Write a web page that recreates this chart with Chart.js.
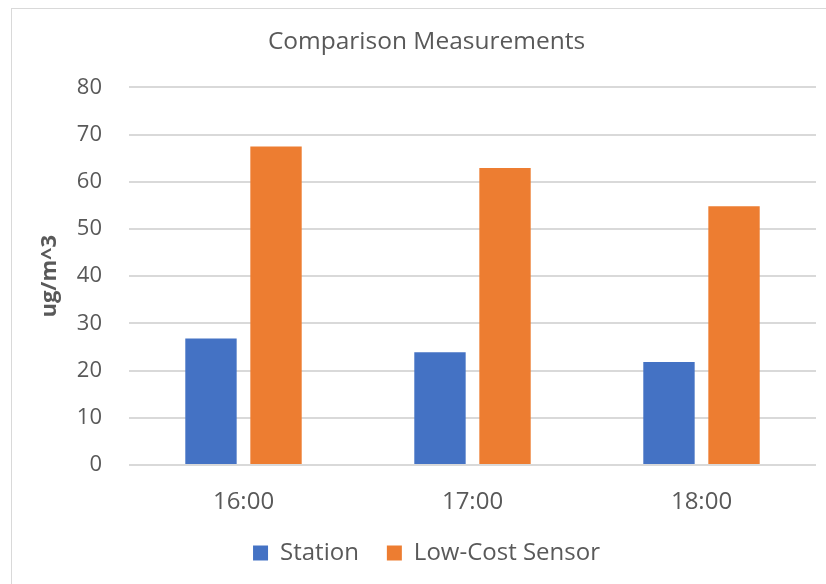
<!DOCTYPE html>
<html>
<head>
<meta charset="utf-8">
<script src="https://cdn.jsdelivr.net/npm/chart.js@4/dist/chart.umd.min.js"></script>
<style>
  html, body { margin: 0; padding: 0; background: #ffffff; }
  #wrap { position: relative; width: 826px; height: 584px; overflow: hidden; }
  #frame { position: absolute; left: 11px; top: 8px; width: 900px; height: 700px; border: 1px solid #d9d9d9; box-sizing: border-box; }
  canvas { position: absolute; left: 0; top: 0; }
</style>
</head>
<body>
<div id="wrap">
  <div id="frame"></div>
  <canvas id="chart" width="826" height="584"></canvas>
</div>
<script>
// Hourly readings, ug/m^3
const hours = ['16:00', '17:00', '18:00'];
const stationValues = [26.8, 23.9, 21.8];
const sensorValues = [67.5, 62.9, 54.8];
const seriesNames = ['Station', 'Low-Cost Sensor'];
const yTicks = [0, 10, 20, 30, 40, 50, 60, 70, 80];

const textColor = '#595959';
const gridColor = '#d9d9d9';
const fontFamily = '"Open Sans", "DejaVu Sans", sans-serif';

new Chart(document.getElementById('chart'), {
  type: 'bar',
  data: {
    labels: hours,
    datasets: [
      { label: seriesNames[0], data: stationValues, backgroundColor: '#4472C4' },
      { label: seriesNames[1], data: sensorValues, backgroundColor: '#ED7D31' }
    ]
  },
  options: {
    responsive: false,
    animation: false,
    devicePixelRatio: 1,
    layout: { padding: { left: 37, right: 10, top: 12, bottom: 9 } },
    datasets: { bar: { categoryPercentage: 0.568, barPercentage: 0.79 } },
    plugins: {
      title: {
        display: true,
        text: 'Comparison Measurements',
        color: textColor,
        font: { family: fontFamily, size: 24.5, weight: 'normal' },
        padding: { top: 15, bottom: 31 }
      },
      legend: {
        position: 'bottom',
        labels: {
          color: textColor,
          font: { family: fontFamily, size: 24 },
          boxWidth: 15,
          boxHeight: 15,
          padding: 28
        }
      },
      tooltip: { enabled: false }
    },
    scales: {
      x: {
        afterFit: (scale) => { scale.height = 48; },
        grid: { display: false, drawTicks: false },
        border: { display: false },
        ticks: { color: textColor, font: { family: fontFamily, size: 24 }, padding: 23 }
      },
      y: {
        min: 0,
        max: 80,
        afterBuildTicks: (scale) => { scale.ticks = yTicks.map(v => ({ value: v })); },
        afterFit: (scale) => { scale.width = 92; },
        grid: { color: gridColor, lineWidth: 2, drawTicks: false },
        border: { display: false },
        ticks: { color: textColor, font: { family: fontFamily, size: 22 }, padding: 27 },
        title: {
          display: true,
          text: 'ug/m^3',
          color: textColor,
          font: { family: fontFamily, size: 22, weight: 'bold' },
          padding: { top: 0, bottom: 0 }
        }
      }
    }
  }
});
</script>
</body>
</html>
